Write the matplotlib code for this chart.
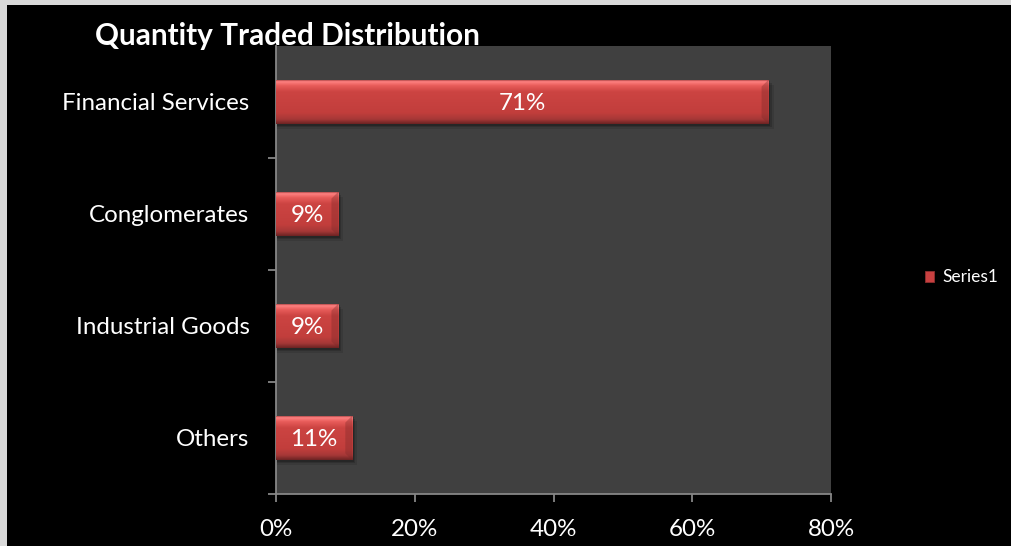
import numpy as np
import matplotlib
matplotlib.use("Agg")
import matplotlib.pyplot as plt
from matplotlib.patches import Rectangle, Polygon
from matplotlib.colors import to_rgb

categories = ["Others", "Industrial Goods", "Conglomerates", "Financial Services"]
values = [0.11, 0.09, 0.09, 0.71]
value_labels = ["11%", "9%", "9%", "71%"]
xticks = [0.0, 0.2, 0.4, 0.6, 0.8]
xtick_labels = ["0%", "20%", "40%", "60%", "80%"]
title = "Quantity Traded Distribution"
series_name = "Series1"

W, H = 1012, 546
fig = plt.figure(figsize=(W / 100, H / 100), dpi=100)
fig.patch.set_facecolor("#d9d9d9")
fig.add_artist(Rectangle((7 / W, 0), 1 - 7 / W, 1 - 5 / H, transform=fig.transFigure,
                         facecolor="black", edgecolor="none", zorder=0))

font = "Lato"
ax = fig.add_axes([276 / W, 1 - 494 / H, (831 - 276) / W, (494 - 46) / H])
ax.set_facecolor("#404040")
ax.set_xlim(0, 0.8)
ax.set_ylim(-0.5, 3.5)

bar_h = 0.40
ypos = np.arange(len(categories))

n = 60
stops = [(0.0, "#8e2f2f"), (0.05, "#ff8282"), (0.14, "#e85c5a"), (0.28, "#cc4442"),
         (0.75, "#c23e3c"), (0.90, "#a63837"), (1.0, "#6e2424")]
rows = []
for i in range(n):
    t = i / (n - 1)
    for k in range(len(stops) - 1):
        if stops[k][0] <= t <= stops[k + 1][0]:
            a = (t - stops[k][0]) / (stops[k + 1][0] - stops[k][0])
            c0 = np.array(to_rgb(stops[k][1]))
            c1 = np.array(to_rgb(stops[k + 1][1]))
            rows.append(c0 * (1 - a) + c1 * a)
            break
grad = np.array(rows)[:, None, :]

px_x = 0.8 / (831 - 276)
px_y = 4.0 / (494 - 46)

for y, v, lab in zip(ypos, values, value_labels):
    for s, al in [(5, 0.10), (3, 0.15), (1.5, 0.2)]:
        ax.add_patch(Rectangle((0, y - bar_h / 2 - s * px_y), v + s * px_x, bar_h,
                               facecolor="black", alpha=al, edgecolor="none", zorder=1))
    bar = ax.barh(y, v, height=bar_h, color="#c84040", edgecolor="none", zorder=2)[0]
    im = ax.imshow(grad, extent=(0, v, y - bar_h / 2, y + bar_h / 2), aspect="auto",
                   zorder=3, interpolation="bilinear", origin="upper")
    im.set_clip_path(bar)
    b = 7
    y0, y1 = y - bar_h / 2, y + bar_h / 2
    ax.add_patch(Polygon([(v - b * px_x, y0 + b * px_y), (v, y0), (v, y1),
                          (v - b * px_x, y1 - b * px_y)], closed=True,
                         facecolor="#7a2828", alpha=0.35, edgecolor="none", zorder=4))
    ax.text(v / 2, y, lab, ha="center", va="center_baseline", color="white",
            fontsize=17.4, family=font, zorder=5)

ax.set_aspect("auto")
ax.set_xlim(0, 0.8)
ax.set_ylim(-0.5, 3.5)

ax.set_xticks(xticks)
ax.set_xticklabels(xtick_labels)
ax.set_yticks(ypos)
ax.set_yticklabels(categories)
ax.set_yticks([-0.5, 0.5, 1.5, 2.5], minor=True)

for sp in ["top", "right"]:
    ax.spines[sp].set_visible(False)
for sp in ["left", "bottom"]:
    ax.spines[sp].set_color("#868686")
    ax.spines[sp].set_linewidth(1.3)

ax.tick_params(axis="x", which="major", direction="out", length=6, width=1.3,
               color="#868686", labelcolor="white", labelsize=17.4, pad=12)
ax.tick_params(axis="y", which="major", length=0, labelcolor="white", labelsize=17.4, pad=19)
ax.tick_params(axis="y", which="minor", direction="out", length=6, width=1.3, color="#868686")
for t in ax.get_xticklabels() + ax.get_yticklabels():
    t.set_family(font)

fig.text(95 / W, 1 - 36 / H, title, ha="left", va="center", color="white",
         fontsize=21.4, fontweight="bold", family=font, zorder=10)

fig.add_artist(Rectangle((925 / W, 1 - 282 / H), 9 / W, 11 / H, transform=fig.transFigure,
                         facecolor="#c84040", edgecolor="#8e2f2f", linewidth=0.6, zorder=5))
fig.text(942 / W, 1 - 277 / H, series_name, ha="left", va="center", color="white",
         fontsize=12.5, family=font)

fig.savefig("out.png", dpi=100, facecolor=fig.get_facecolor())
